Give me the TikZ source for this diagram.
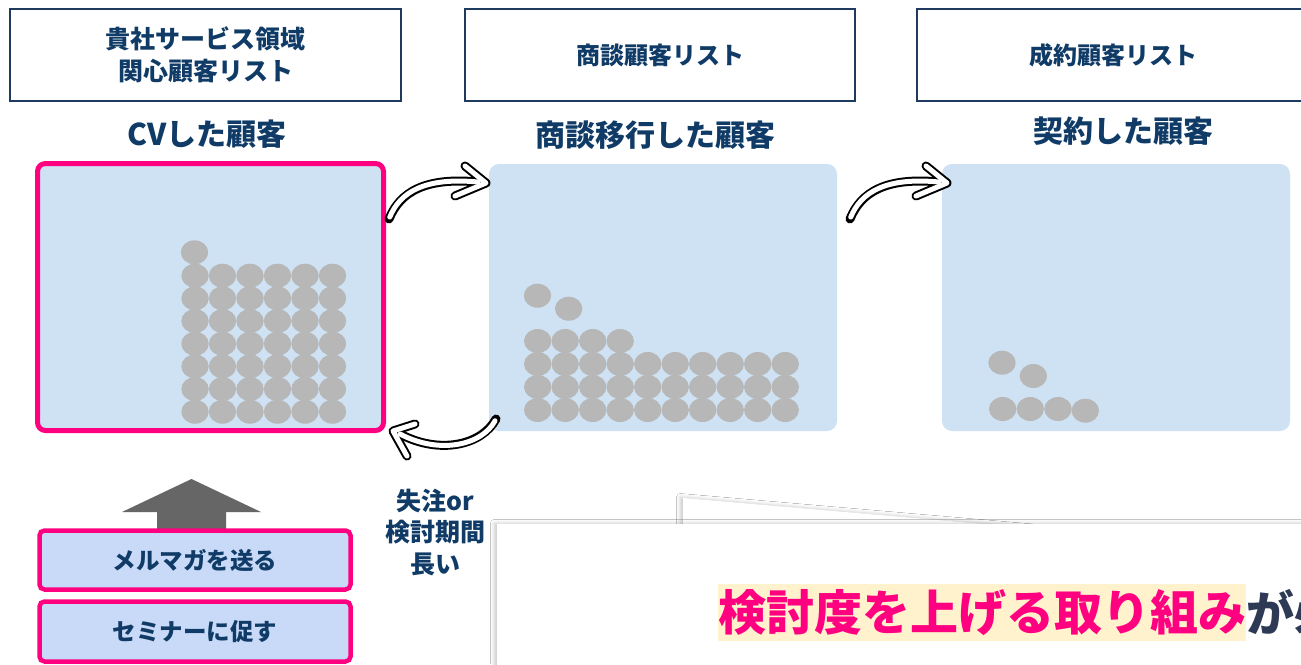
\documentclass[tikz,border=0pt]{standalone}
\usepackage{fontspec}
\setmainfont{Noto Sans CJK JP}
\usetikzlibrary{shadows.blur}
\definecolor{navy}{HTML}{0F3B66}
\definecolor{boxline}{HTML}{1F3A5F}
\definecolor{hotpink}{HTML}{FF0080}
\definecolor{panelblue}{HTML}{CFE2F3}
\definecolor{dotgray}{HTML}{B7B7B7}
\definecolor{actblue}{HTML}{C9DAF8}
\definecolor{arrowgray}{HTML}{666666}
\definecolor{hl}{HTML}{FFF2CC}
\definecolor{slate}{HTML}{2E3A55}
\tikzset{
  topbox/.style={draw=boxline, line width=2pt, fill=white, inner sep=0pt, align=center,
    text=navy, font=\bfseries\fontsize{24}{32}\selectfont, minimum height=92pt},
  titletext/.style={text=navy, font=\bfseries\fontsize{30}{36}\selectfont, inner sep=0pt},
  panelbox/.style={fill=panelblue, rounded corners=10pt, inner sep=0pt, minimum height=267pt},
  dotc/.style={fill=dotgray},
  arrowout/.style={line width=9pt, black, line cap=round, line join=round},
  arrowin/.style={line width=5pt, white, line cap=round, line join=round},
  actbox/.style={draw=hotpink, line width=4.5pt, fill=actblue, rounded corners=5pt, inner sep=0pt,
    minimum width=311pt, text=navy, font=\bfseries\fontsize{23.5}{28}\selectfont},
  sidenote/.style={text=navy, align=center, inner sep=0pt, font=\bfseries\fontsize{25}{31.5}\selectfont},
  paper/.style={fill=white, blur shadow={shadow xshift=-3pt, shadow yshift=1pt, shadow blur radius=3.5pt, shadow opacity=20}},
}
\newcommand{\curvedarrow}[7]{%
  % #1 tail, #2 c1, #3 c2, #4 shaft end, #5 tip, #6 arm A, #7 arm B
  \draw[arrowout] #1 .. controls #2 and #3 .. #4;
  \draw[arrowout] #6 -- #5 -- #7;
  \draw[arrowin, shorten <=2pt] #1 .. controls #2 and #3 .. #4;
  \draw[arrowin] #6 -- #5 -- #7;
}
\begin{document}
\begin{tikzpicture}[x=1pt, y=-1pt]
\useasboundingbox (0,0) rectangle (1301,664);
\clip (0,0) rectangle (1301,664);
\fill[white] (0,0) rectangle (1301,664);

% top boxes
\node[topbox, minimum width=391pt, font=\bfseries\fontsize{25}{32}\selectfont] (b1) at (205.5,55) {貴社サービス領域\\関心顧客リスト};
\node[topbox, minimum width=390pt] (b2) at (660,55) {商談顧客リスト};
\node[topbox, minimum width=392pt] (b3) at (1113,55) {成約顧客リスト};

% titles
\node[titletext] (t1) at (207,134) {CVした顧客};
\node[titletext] (t2) at (655,135) {商談移行した顧客};
\node[titletext] (t3) at (1123,131) {契約した顧客};

% panels
\node[panelbox, draw=hotpink, line width=5pt, rounded corners=8pt, minimum width=346pt, minimum height=267pt] (p1) at (210.5,297) {};
\node[panelbox, minimum width=348pt] (p2) at (663,297.5) {};
\node[panelbox, minimum width=348pt] (p3) at (1116,297.5) {};

% dots panel 1
\foreach \i in {0,...,5}{
  \foreach \j in {0,...,6}{
    \fill[dotc] ({195+27.5*\i},{275.7+22.67*\j}) ellipse [x radius=13.7pt, y radius=12pt];
  }
}
\fill[dotc] (194.5,252.3) ellipse [x radius=13.7pt, y radius=12pt];

% dots panel 2
\foreach \i in {0,...,9}{
  \foreach \y in {364,387,410}{
    \fill[dotc] ({537.7+27.5*\i},\y) ellipse [x radius=13.7pt, y radius=12pt];
  }
}
\foreach \i in {0,...,3}{
  \fill[dotc] ({537.7+27.5*\i},341) ellipse [x radius=13.7pt, y radius=12pt];
}
\fill[dotc] (537.5,295.7) ellipse [x radius=13.7pt, y radius=12pt];
\fill[dotc] (568.7,308.7) ellipse [x radius=13.7pt, y radius=12pt];

% dots panel 3
\foreach \x/\y in {1002.7/409,1030.3/409,1058/409,1085.3/410.7,1002/362.7,1033.3/376}{
  \fill[dotc] (\x,\y) ellipse [x radius=13.7pt, y radius=12pt];
}

% curved arrows
\curvedarrow{(389,219)}{(400,192)}{(425,177)}{(478,182)}{(486,183)}{(465,166)}{(455,196)}
\curvedarrow{(850,219)}{(861,192)}{(886,177)}{(939,182)}{(947,183)}{(926,166)}{(916,196)}
\curvedarrow{(496,419)}{(482,445)}{(440,455)}{(400,434)}{(393,431)}{(415,424)}{(407,456)}

% side note
\node[sidenote] (note) at (435,532) {失注or\\検討期間\\長い};

% gray up arrow
\fill[arrowgray] (157,532) -- (157,512) -- (122,512) -- (191.5,479) -- (261,512) -- (226,512) -- (226,532) -- cycle;

% action boxes
\node[actbox, minimum height=59pt] (m1) at (195,560) {メルマガを送る};
\node[actbox, minimum height=60pt] (m2) at (195,631.5) {セミナーに促す};

% paper sheets
\fill[paper] (683,498) -- (1400,560) -- (1400,720) -- (683,720) -- cycle;
\fill[paper] (497,524) rectangle (1400,720);

% message
\node[fill=hl, inner xsep=0pt, inner ysep=0pt, minimum height=57pt, anchor=west, text=hotpink,
  font=\bfseries\fontsize{48}{56}\selectfont] (msg) at (718,612.5) {検討度を上げる取り組み};
\node[anchor=west, inner sep=0pt, text=slate, font=\bfseries\fontsize{48}{56}\selectfont] (msg2) at (msg.east) {が必要};
\end{tikzpicture}
\end{document}
